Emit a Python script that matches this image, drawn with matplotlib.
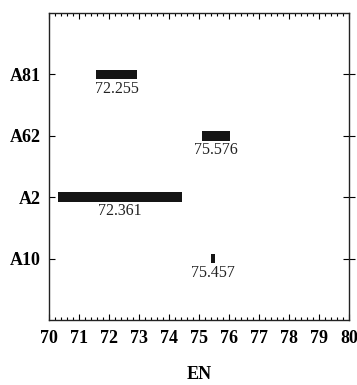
import numpy as np
import matplotlib.pyplot as plt
from matplotlib.ticker import MultipleLocator

plt.rcParams['font.family'] = ['Liberation Serif', 'DejaVu Serif']

# samples from bottom to top
names = ['A10', 'A2', 'A62', 'A81']
centers = [75.457, 72.361, 75.576, 72.255]
half_widths = [0.06, 2.06, 0.47, 0.67]

fig = plt.figure(figsize=(3.57, 3.85), dpi=100)
ax = fig.add_axes([0.137, 0.169, 0.841, 0.797])

ypos = np.arange(1, len(names) + 1)
bar_h = 0.16
for y, c, hw in zip(ypos, centers, half_widths):
    ax.barh(y, 2 * hw, left=c - hw, height=bar_h, color='#151515')
    ax.annotate('%.3f' % c, xy=(c, y - bar_h / 2), xytext=(0, -1),
                textcoords='offset points', ha='center', va='top',
                fontsize=11.5, color='#222222')

ax.set_xlim(70, 80)
ax.set_ylim(0, 5)
ax.xaxis.set_major_locator(MultipleLocator(1))
ax.xaxis.set_minor_locator(MultipleLocator(0.2))
ax.set_yticks(ypos)
ax.set_yticklabels(names, fontsize=13, fontweight='bold')
for lab in ax.get_xticklabels():
    lab.set_fontsize(13)
    lab.set_fontweight('bold')

ax.tick_params(axis='x', which='both', direction='in', top=True, bottom=True)
ax.tick_params(axis='x', which='major', length=4, width=0.8, pad=7)
ax.tick_params(axis='x', which='minor', length=2, width=0.8)
ax.tick_params(axis='y', which='major', direction='in', length=4, width=0.8,
               left=True, pad=6)
ax.tick_params(axis='y', which='major', right=True)
# right-hand ticks straddle the spine
for t in ax.yaxis.get_major_ticks():
    t.tick2line.set_marker('_')
    t.tick2line.set_markersize(8)
for s in ax.spines.values():
    s.set_linewidth(1.0)
    s.set_color('#222222')

ax.set_xlabel('EN', fontsize=13, fontweight='bold', labelpad=14)

fig.savefig('out.png', dpi=100)
